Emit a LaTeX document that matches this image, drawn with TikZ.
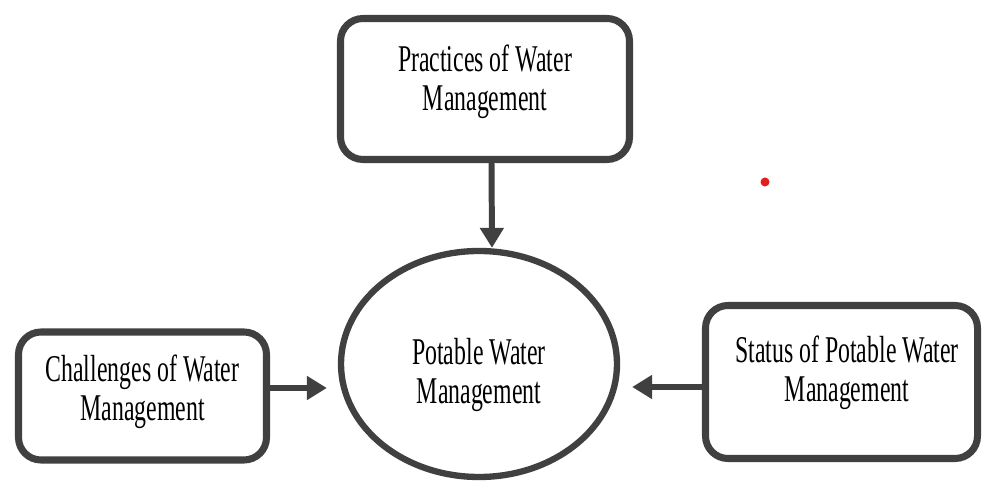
\documentclass[tikz,border=0pt]{standalone}
\usepackage{fontspec}
\setmainfont{Liberation Serif}[FakeStretch=0.63]
\usetikzlibrary{arrows.meta,shapes.geometric}
\definecolor{linegray}{RGB}{64,64,64}
\definecolor{dotred}{RGB}{226,30,30}

\begin{document}
\begin{tikzpicture}[
    box/.style={draw=linegray,line width=4pt,rounded corners=0.45cm,inner sep=0pt},
    oval/.style={draw=linegray,line width=3.6pt,ellipse,inner sep=0pt},
    words/.style={align=center,font=\fontsize{21.5}{22}\selectfont},
    flow/.style={draw=linegray,line width=3.4pt,-{Triangle[width=0.46cm,length=0.4cm]}}
  ]
    \useasboundingbox (0,0) rectangle (19.66,9.62);
    % boxes and the oval
    \node[box,minimum width=5.78cm,minimum height=2.82cm] (practices) at (9.70,7.84) {};
    \node[words] (practicestext) at ([yshift=0.15cm]practices.center) {Practices of Water\\Management};
    \node[oval,minimum width=5.52cm,minimum height=4.52cm] (potable) at (9.58,2.34) {};
    \node[words] (potabletext) at ([yshift=-0.22cm]potable.center) {Potable Water\\Management};
    \node[box,minimum width=4.96cm,minimum height=2.56cm] (challenges) at (2.85,1.70) {};
    \node[words] (challengestext) at ([yshift=0.08cm]challenges.center) {Challenges of Water\\Management};
    \node[box,minimum width=5.44cm,minimum height=3.06cm] (status) at (16.83,1.98) {};
    \node[words] (statustext) at ([xshift=0.11cm,yshift=0.19cm]status.center) {Status of Potable Water\\Management};
    % arrows
    \draw[flow] ([xshift=0.13cm]practices.south) -- ([xshift=0.26cm]potable.north);
    \draw[flow] ([yshift=0.16cm]challenges.east) -- ([xshift=-0.22cm,yshift=-0.48cm]potable.west);
    \draw[flow] ([yshift=-0.1cm]status.west) -- ([xshift=0.24cm,yshift=-0.46cm]potable.east);
    % stray dot
    \fill[dotred] (15.30,5.98) circle (0.09);
\end{tikzpicture}
\end{document}
